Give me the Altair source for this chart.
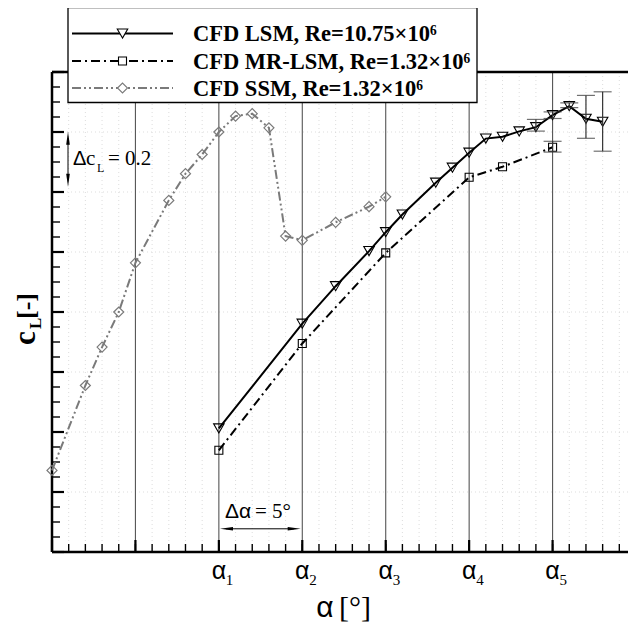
import altair as alt
import pandas as pd

# ---------------- data (alpha relative to alpha_1, in degrees) ----
lsm_alpha = [0, 5, 7, 9, 10, 11, 13, 14, 15, 16, 17, 18, 19, 20, 21, 22, 23]
lsm_cl = [0.412, 0.761, 0.886, 1.003, 1.066, 1.125, 1.231, 1.281, 1.331, 1.378,
          1.384, 1.402, 1.416, 1.456, 1.486, 1.444, 1.434]
mr_alpha = [0, 5, 10, 15, 17, 20]
mr_cl = [0.339, 0.695, 0.997, 1.249, 1.284, 1.349]
ssm_alpha = [-10, -8, -7, -6, -5, -3, -2, -1, 0, 1, 2, 3, 4, 5, 7, 9, 10]
ssm_cl = [0.272, 0.555, 0.683, 0.800, 0.964, 1.172, 1.261, 1.325, 1.400, 1.453,
          1.461, 1.414, 1.053, 1.039, 1.099, 1.151, 1.184]

# error bars
lsm_err_alpha = [19, 20, 21, 22, 23]
lsm_err_lo = [1.403, 1.445, 1.481, 1.379, 1.336]
lsm_err_hi = [1.442, 1.467, 1.497, 1.522, 1.534]
mr_err_alpha = [20]
mr_err_lo = [1.333]
mr_err_hi = [1.369]

legend_labels = ["CFD LSM, Re=10.75×10⁶", "CFD MR-LSM, Re=1.32×10⁶", "CFD SSM, Re=1.32×10⁶"]
alpha_ticks = [0, 5, 10, 15, 20]
alpha_subs = ["1", "2", "3", "4", "5"]
vline_pos = [-5, 0, 5, 10, 15, 20]
cl_major = [round(0.2 * i, 3) for i in range(9)]
cl_minor = [round(0.05 * i, 3) for i in range(33)]
a_major = list(range(-10, 25, 5))
a_minor = list(range(-10, 25))
grid_a = [a for a in range(-9, 25) if a % 5 != 0]
grid_cl = [round(0.2 * i, 3) for i in range(1, 8)]

# ---------------- scales ----------------
W, H = 576, 480
xs = alt.Scale(domain=[-10, 24.52], nice=False, zero=False)
ys = alt.Scale(domain=[0, 1.6], nice=False, zero=False)
SERIF = "Liberation Serif"
SANS = "Liberation Sans"
GRAY = "#7a7a7a"


def X(f):
    return alt.X(f, type="quantitative", scale=xs, axis=None)


def Y(f):
    return alt.Y(f, type="quantitative", scale=ys, axis=None)


one = pd.DataFrame({"v": [0]})


def txt(text, x, y, size, font, weight="normal", align="left", angle=0, color="black"):
    return alt.Chart(one).mark_text(
        fontSize=size, font=font, fontWeight=weight, align=align,
        baseline="alphabetic", angle=angle, color=color
    ).encode(x=alt.value(x), y=alt.value(y), text=alt.value(text))


layers = []

# dotted grid
layers.append(alt.Chart(pd.DataFrame({"a": grid_a})).mark_rule(
    color="#d4d4d4", strokeWidth=0.8, strokeDash=[1, 3]).encode(x=X("a")))
layers.append(alt.Chart(pd.DataFrame({"c": grid_cl})).mark_rule(
    color="#d4d4d4", strokeWidth=0.8, strokeDash=[1, 3]).encode(y=Y("c")))

# solid vertical reference lines
layers.append(alt.Chart(pd.DataFrame({"a": vline_pos})).mark_rule(
    color="#555555", strokeWidth=1.1).encode(x=X("a")))

# frame (left, bottom, top)
layers.append(alt.Chart(one).mark_rule(color="black", strokeWidth=2.5).encode(
    x=alt.value(0), y=alt.value(0), y2=alt.value(H)))
layers.append(alt.Chart(one).mark_rule(color="black", strokeWidth=2.5).encode(
    x=alt.value(0), x2=alt.value(W + 10), y=alt.value(H)))
layers.append(alt.Chart(one).mark_rule(color="black", strokeWidth=2.5).encode(
    x=alt.value(0), x2=alt.value(W + 10), y=alt.value(0)))

# inward ticks
layers.append(alt.Chart(pd.DataFrame({"c": cl_minor})).mark_rule(
    color="black", strokeWidth=1.4).encode(y=Y("c"), x=alt.value(0), x2=alt.value(8)))
layers.append(alt.Chart(pd.DataFrame({"c": cl_major})).mark_rule(
    color="black", strokeWidth=2.2).encode(y=Y("c"), x=alt.value(0), x2=alt.value(12)))
layers.append(alt.Chart(pd.DataFrame({"a": a_minor})).mark_rule(
    color="black", strokeWidth=1.4).encode(x=X("a"), y=alt.value(H), y2=alt.value(H - 8)))
layers.append(alt.Chart(pd.DataFrame({"a": a_major})).mark_rule(
    color="black", strokeWidth=2.2).encode(x=X("a"), y=alt.value(H), y2=alt.value(H - 12)))

# series
ssm = pd.DataFrame({"a": ssm_alpha, "c": ssm_cl})
mr = pd.DataFrame({"a": mr_alpha, "c": mr_cl})
lsm = pd.DataFrame({"a": lsm_alpha, "c": lsm_cl})

layers.append(alt.Chart(ssm).mark_line(color=GRAY, strokeWidth=2, strokeDash=[9, 3, 2, 3, 2, 3]).encode(
    x=X("a"), y=Y("c")))
layers.append(alt.Chart(ssm).mark_point(shape="diamond", size=100, color=GRAY, filled=False,
                                        strokeWidth=1.2, opacity=1).encode(x=X("a"), y=Y("c")))
layers.append(alt.Chart(mr).mark_line(color="black", strokeWidth=2, strokeDash=[9, 4, 2, 4]).encode(
    x=X("a"), y=Y("c")))
layers.append(alt.Chart(mr).mark_point(shape="square", size=64, color="black", filled=False,
                                       strokeWidth=1.1, opacity=1).encode(x=X("a"), y=Y("c")))
layers.append(alt.Chart(lsm).mark_line(color="black", strokeWidth=2).encode(x=X("a"), y=Y("c")))
layers.append(alt.Chart(lsm).mark_point(shape="triangle-down", size=110, color="black", filled=False,
                                        strokeWidth=1.1, opacity=1).encode(x=X("a"), y=Y("c")))

# error bars
err = pd.DataFrame({"a": lsm_err_alpha + mr_err_alpha,
                    "lo": lsm_err_lo + mr_err_lo,
                    "hi": lsm_err_hi + mr_err_hi})
layers.append(alt.Chart(err).mark_rule(color="#333333", strokeWidth=1.2).encode(
    x=X("a"), y=Y("lo"), y2="hi"))
layers.append(alt.Chart(err).mark_tick(orient="horizontal", size=18, thickness=1.2, color="#333333").encode(
    x=X("a"), y=Y("lo")))
layers.append(alt.Chart(err).mark_tick(orient="horizontal", size=18, thickness=1.2, color="#333333").encode(
    x=X("a"), y=Y("hi")))

# x tick labels alpha_i
lab = pd.DataFrame({"a": alpha_ticks, "s": alpha_subs})
layers.append(alt.Chart(lab).mark_text(font=SANS, fontSize=25, align="center", baseline="alphabetic",
                                       text="α").encode(x=X("a"), y=alt.value(H + 27)))
layers.append(alt.Chart(lab).mark_text(font=SERIF, fontSize=15, align="left", baseline="alphabetic",
                                       dx=7).encode(x=X("a"), y=alt.value(H + 33), text="s:N"))

# axis titles
layers.append(txt("α", 273, H + 65, 30, SANS, align="center"))
layers.append(txt("[°]", 287, H + 65, 30, SERIF))
layers.append(txt("c", -17, 273, 31, SERIF, weight="bold", angle=270))
layers.append(txt("L", -11, 257, 17, SERIF, weight="bold", angle=270))
layers.append(txt("[-]", -17, 247, 26, SERIF, weight="bold", angle=270))

# delta c_L annotation
arrow_up = "M0,-1L0.28,1L-0.28,1Z"
arrow_down = "M0,1L0.28,-1L-0.28,-1Z"
arrow_left = "M-1,0L1,-0.28L1,0.28Z"
arrow_right = "M1,0L-1,-0.28L-1,0.28Z"
layers.append(alt.Chart(one).mark_rule(color="black", strokeWidth=1).encode(
    x=alt.value(16), y=alt.value(66), y2=alt.value(108)))
layers.append(alt.Chart(one).mark_point(shape=arrow_up, size=169, filled=True, color="black", opacity=1).encode(
    x=alt.value(16), y=alt.value(66.3)))
layers.append(alt.Chart(one).mark_point(shape=arrow_down, size=169, filled=True, color="black", opacity=1).encode(
    x=alt.value(16), y=alt.value(108.3)))
layers.append(txt("Δ", 21, 92.5, 20, SANS))
layers.append(txt("c", 34, 92.5, 21, SERIF))
layers.append(txt("L", 45, 99.5, 12, SERIF))
layers.append(txt("= 0.2", 56, 92.5, 21, SERIF))

# delta alpha annotation
layers.append(alt.Chart(one).mark_rule(color="black", strokeWidth=1).encode(
    x=alt.value(174), x2=alt.value(242), y=alt.value(456.8)))
layers.append(alt.Chart(one).mark_point(shape=arrow_left, size=169, filled=True, color="black", opacity=1).encode(
    x=alt.value(174.5), y=alt.value(456.8)))
layers.append(alt.Chart(one).mark_point(shape=arrow_right, size=169, filled=True, color="black", opacity=1).encode(
    x=alt.value(242.2), y=alt.value(456.8)))
layers.append(txt("Δα", 173, 445.5, 21, SANS))
layers.append(txt("= 5°", 203, 445.5, 21, SERIF))

# legend box
layers.append(alt.Chart(one).mark_rect(fill="white", stroke="black", strokeWidth=1.3).encode(
    x=alt.value(16), x2=alt.value(425), y=alt.value(-64.5), y2=alt.value(30.5)))
row_y = [-38.5, -11, 16]
row_styles = [("black", None, "triangle-down", 110),
              ("black", [9, 4, 2, 4], "square", 64),
              (GRAY, [9, 3, 2, 3, 2, 3], "diamond", 100)]
for lbl, ry, (col, dash, shp, sz) in zip(legend_labels, row_y, row_styles):
    kw = dict(color=col, strokeWidth=2)
    if dash:
        kw["strokeDash"] = dash
    layers.append(alt.Chart(one).mark_rule(**kw).encode(
        x=alt.value(20), x2=alt.value(121), y=alt.value(ry)))
    layers.append(alt.Chart(one).mark_point(shape=shp, size=sz, filled=True, fill="white", stroke=col,
                                            fillOpacity=1, strokeOpacity=1,
                                            strokeWidth=1.1, opacity=1).encode(
        x=alt.value(70.5), y=alt.value(ry)))
    layers.append(txt(lbl, 141, ry + 7.5, 22.5, SERIF, weight="bold"))

chart = alt.layer(*layers).properties(
    width=W, height=H,
    padding={"left": 44, "top": 64, "right": 0, "bottom": 72},
    autosize="none",
).configure_view(stroke=None)

chart.save("out.html", embed_options={"renderer": "svg", "actions": False})
